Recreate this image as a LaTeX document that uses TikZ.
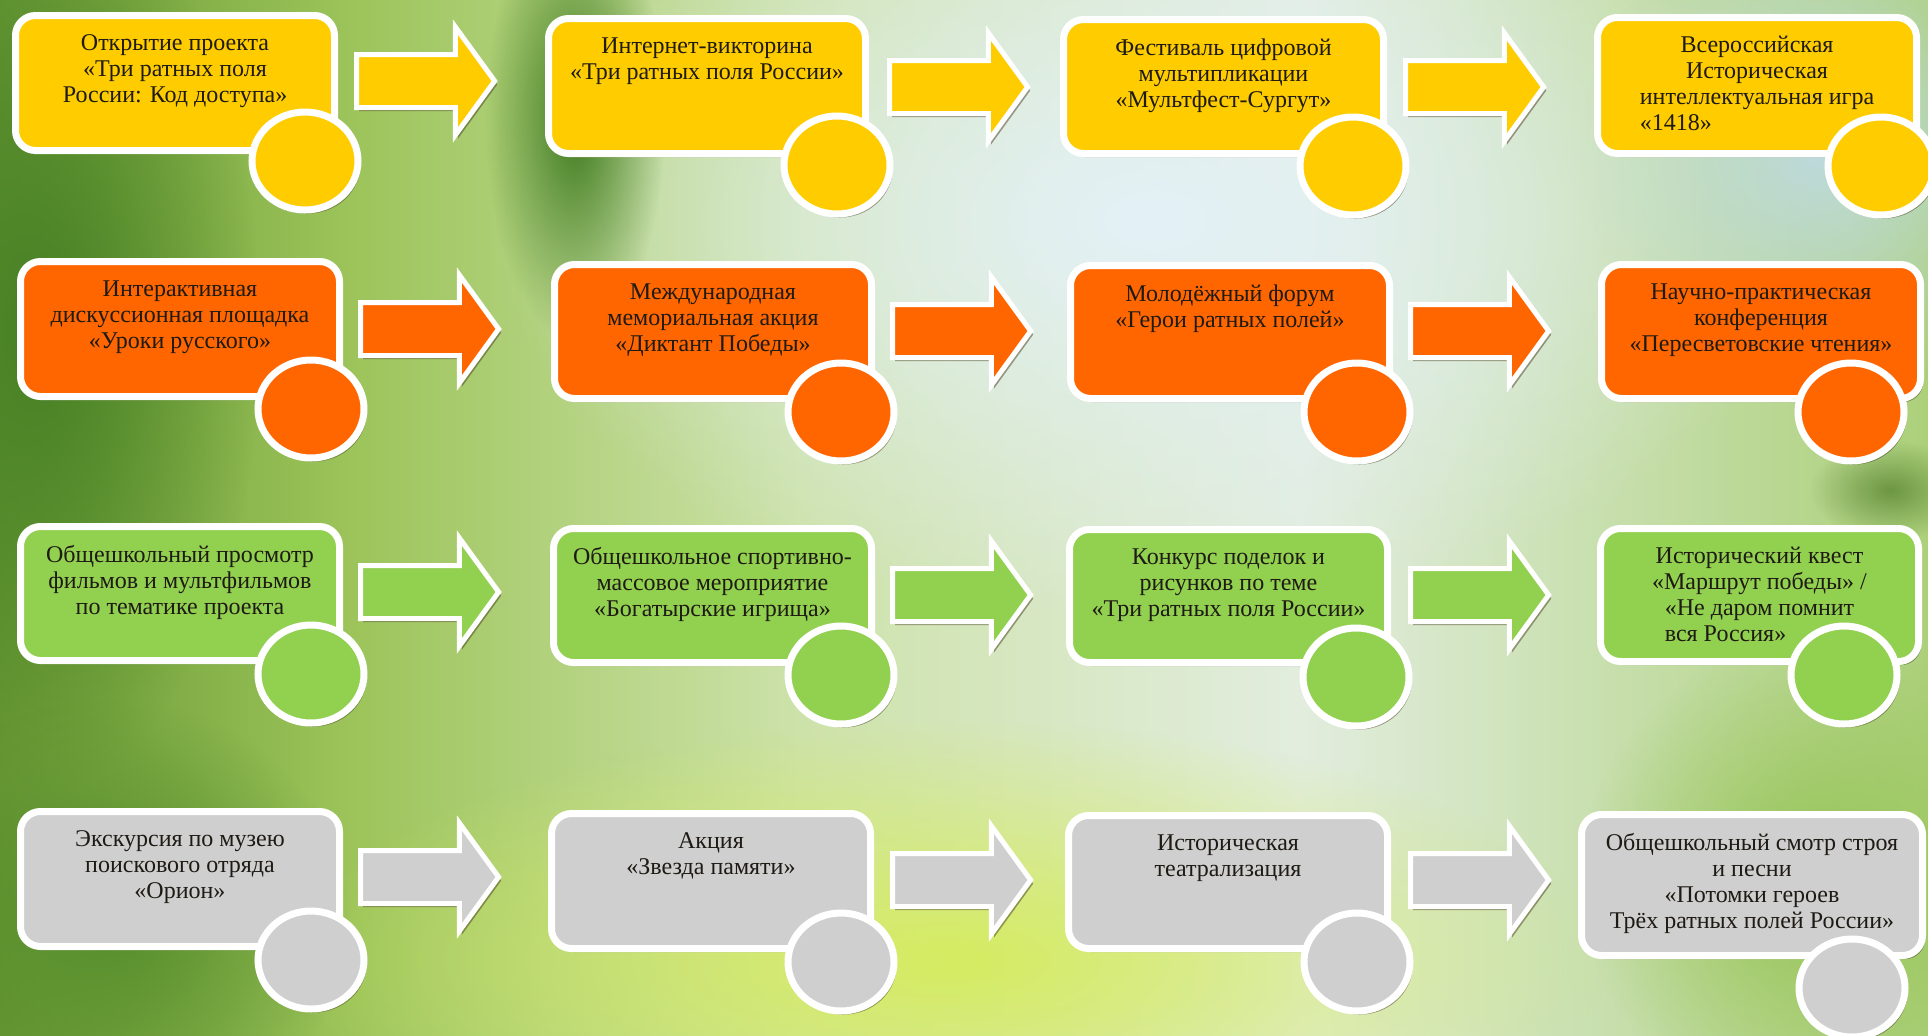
\documentclass[tikz,border=0pt]{standalone}
\usepackage{fontspec}
\setmainfont{Liberation Serif}
\usetikzlibrary{shapes.arrows,shapes.geometric,shadows,fadings}
\definecolor{cYel}{HTML}{FFCC00}
\definecolor{cOra}{HTML}{FF6600}
\definecolor{cGrn}{HTML}{92D050}
\definecolor{cGry}{HTML}{CFCFCF}
\definecolor{cTxt}{HTML}{1E1A14}
\definecolor{cShd}{HTML}{4A4020}
\tikzfading[name=blob, inner color=transparent!0, outer color=transparent!100]
\tikzset{
  shd/.style={drop shadow={shadow xshift=1.3pt, shadow yshift=-1.8pt, opacity=0.5, fill=cShd}},
  boxsty/.style={shd, draw=white, line width=3.5pt, rounded corners=10pt, rectangle, inner sep=0pt},
  dotsty/.style={shd, draw=white, line width=3.5pt, ellipse, inner sep=0pt, minimum width=53pt, minimum height=49pt},
  arrsty/.style={shd, draw=white, line width=2.5pt, single arrow, inner xsep=0pt, inner ysep=12pt,
    text height=0pt, text depth=0pt, minimum height=69pt, minimum width=0pt,
    single arrow head extend=13.75pt, single arrow tip angle=108},
  txt/.style={anchor=north, align=center, inner sep=0pt, text=cTxt, font=\rmfamily\fontsize{12}{13}\selectfont},
  blobsty/.style={path fading=blob}
}
\newcommand\bx[7]{%
  \node[boxsty, fill=#6, minimum width={(#4-#2)*0.5pt-3.5pt}, minimum height={(#5-#3)*0.5pt-3.5pt}]
    (#1) at ({(#2+#4)/2},{(#3+#5)/2}) {};
  \node[txt] (#1t) at ({(#2+#4)/2},{#3+22}) {#7};
}
\newcommand\dt[4]{\node[dotsty, fill=#4] (#1) at (#2,#3) {};}
\newcommand\ar[4]{\node[arrsty, fill=#4] (#1) at (#2,#3) {};}
\begin{document}
\begin{tikzpicture}[x=0.5pt,y=-0.5pt]
\useasboundingbox (0,0) rectangle (1928,1035);
\begin{scope}
\clip (0,0) rectangle (1928,1035);
% background
\shade[left color={rgb,255:red,104;green,152;blue,52}, right color={rgb,255:red,156;green,196;blue,90}] (0,0) rectangle (351,1035);
\shade[left color={rgb,255:red,156;green,196;blue,90}, right color={rgb,255:red,205;green,226;blue,170}] (350,0) rectangle (801,1035);
\shade[left color={rgb,255:red,205;green,226;blue,170}, right color={rgb,255:red,226;green,237;blue,222}] (800,0) rectangle (1301,1035);
\shade[left color={rgb,255:red,226;green,237;blue,222}, right color={rgb,255:red,172;green,208;blue,122}] (1300,0) rectangle (1928,1035);
\fill[blobsty, color={rgb,255:red,228;green,241;blue,247}] (1150,220) ellipse [x radius=330pt, y radius=200pt];
\fill[blobsty, color={rgb,255:red,214;green,236;blue,96}] (950,960) ellipse [x radius=330pt, y radius=120pt];
\fill[blobsty, color={rgb,255:red,70;green,128;blue,36}] (40,330) ellipse [x radius=110pt, y radius=230pt];
\fill[blobsty, color={rgb,255:red,86;green,142;blue,44}] (110,920) ellipse [x radius=120pt, y radius=110pt];
\fill[blobsty, color={rgb,255:red,62;green,122;blue,30}] (575,120) ellipse [x radius=45pt, y radius=110pt];
\fill[blobsty, opacity=0.7, color={rgb,255:red,80;green,125;blue,40}] (1890,490) ellipse [x radius=40pt, y radius=25pt];
\fill[blobsty, color={rgb,255:red,190;green,218;blue,222}] (1820,150) ellipse [x radius=120pt, y radius=120pt];
\fill[blobsty, color={rgb,255:red,150;green,196;blue,86}] (1820,880) ellipse [x radius=120pt, y radius=120pt];
\end{scope}
% row 1
\bx{b11}{12}{12}{338}{154}{cYel}{Открытие проекта\\«Три ратных поля\\России: Код доступа»}
\dt{c11}{305}{161}{cYel}
\ar{a11}{416}{81}{cYel}
\bx{b12}{545}{15}{869}{157}{cYel}{Интернет-викторина\\«Три ратных поля России»}
\dt{c12}{837}{165}{cYel}
\ar{a12}{949}{87}{cYel}
\bx{b13}{1060}{16}{1387}{157}{cYel}{Фестиваль цифровой\\мультипликации\\«Мультфест-Сургут»}
\dt{c13}{1353}{166}{cYel}
\ar{a13}{1465}{87}{cYel}
\bx{b14}{1594}{14}{1920}{157}{cYel}{Всероссийская\\Историческая\\интеллектуальная игра\\\rlap{«1418»}\phantom{интеллектуальная игра}}
\dt{c14}{1881}{166}{cYel}
% row 2
\bx{b21}{17}{258}{343}{400}{cOra}{Интерактивная\\дискуссионная площадка\\«Уроки русского»}
\dt{c21}{311}{409}{cOra}
\ar{a21}{420}{329}{cOra}
\bx{b22}{551}{261}{875}{402}{cOra}{Международная\\мемориальная акция\\«Диктант Победы»}
\dt{c22}{841}{412}{cOra}
\ar{a22}{952}{331}{cOra}
\bx{b23}{1067}{262}{1393}{402}{cOra}{Молодёжный форум\\«Герои ратных полей»}
\dt{c23}{1357}{412}{cOra}
\ar{a23}{1470}{331}{cOra}
\bx{b24}{1598}{261}{1924}{402}{cOra}{Научно-практическая\\конференция\\«Пересветовские чтения»}
\dt{c24}{1851}{412}{cOra}
% row 3
\bx{b31}{17}{523}{343}{664}{cGrn}{Общешкольный просмотр\\фильмов и мультфильмов\\по тематике проекта}
\dt{c31}{311}{674}{cGrn}
\ar{a31}{420}{592}{cGrn}
\bx{b32}{550}{525}{875}{666}{cGrn}{Общешкольное спортивно-\\массовое мероприятие\\«Богатырские игрища»}
\dt{c32}{841}{675}{cGrn}
\ar{a32}{952}{595}{cGrn}
\bx{b33}{1066}{526}{1391}{666}{cGrn}{Конкурс поделок и\\рисунков по теме\\«Три ратных поля России»}
\dt{c33}{1356}{677}{cGrn}
\ar{a33}{1470}{595}{cGrn}
\bx{b34}{1597}{525}{1922}{665}{cGrn}{Исторический квест\\«Маршрут победы» /\\«Не даром помнит\\\rlap{вся Россия»}\phantom{«Не даром помнит}}
\dt{c34}{1844}{675}{cGrn}
% row 4
\bx{b41}{17}{808}{343}{950}{cGry}{Экскурсия по музею\\поискового отряда\\«Орион»}
\dt{c41}{311}{960}{cGry}
\ar{a41}{420}{877}{cGry}
\bx{b42}{548}{810}{874}{952}{cGry}{Акция\\«Звезда памяти»}
\dt{c42}{841}{962}{cGry}
\ar{a42}{952}{880}{cGry}
\bx{b43}{1065}{812}{1391}{952}{cGry}{Историческая\\театрализация}
\dt{c43}{1357}{962}{cGry}
\ar{a43}{1470}{880}{cGry}
\bx{b44}{1578}{811}{1926}{959}{cGry}{Общешкольный смотр строя\\и песни\\«Потомки героев\\Трёх ратных полей России»}
\dt{c44}{1852}{988}{cGry}
\end{tikzpicture}
\end{document}
